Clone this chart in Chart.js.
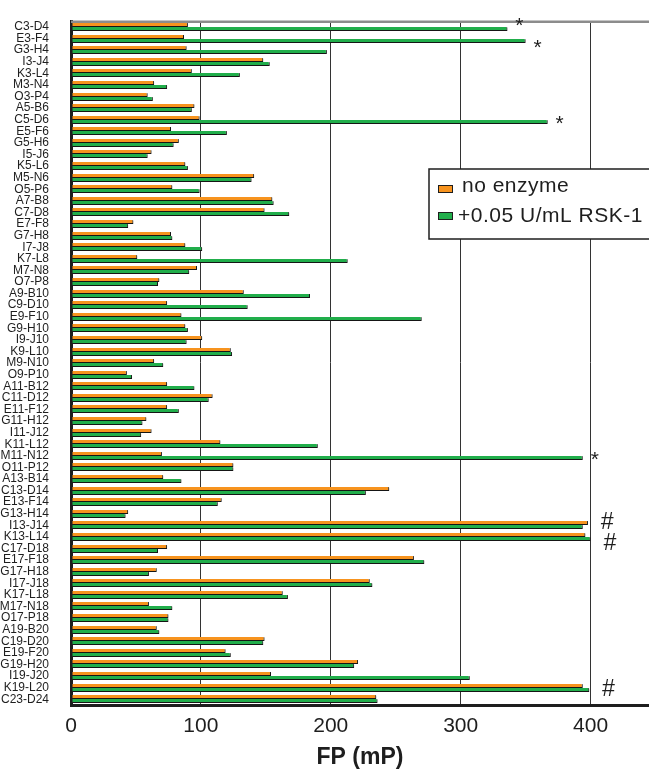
<!DOCTYPE html>
<html>
<head>
<meta charset="utf-8">
<script src="https://cdn.jsdelivr.net/npm/chart.js@4/dist/chart.umd.min.js"></script>
<style>
  html, body { margin: 0; padding: 0; background: #fff; }
  #wrap { width: 649px; height: 775px; position: relative; }
</style>
</head>
<body>
<div id="wrap"><canvas id="fpChart"></canvas></div>
<script>
// peptide pairs, top to bottom
const pairs = [
  'C3-D4', 'E3-F4', 'G3-H4', 'I3-J4', 'K3-L4', 'M3-N4', 'O3-P4', 'A5-B6', 'C5-D6', 'E5-F6',
  'G5-H6', 'I5-J6', 'K5-L6', 'M5-N6', 'O5-P6', 'A7-B8', 'C7-D8', 'E7-F8', 'G7-H8', 'I7-J8',
  'K7-L8', 'M7-N8', 'O7-P8', 'A9-B10', 'C9-D10', 'E9-F10', 'G9-H10', 'I9-J10', 'K9-L10', 'M9-N10',
  'O9-P10', 'A11-B12', 'C11-D12', 'E11-F12', 'G11-H12', 'I11-J12', 'K11-L12', 'M11-N12', 'O11-P12', 'A13-B14',
  'C13-D14', 'E13-F14', 'G13-H14', 'I13-J14', 'K13-L14', 'C17-D18', 'E17-F18', 'G17-H18', 'I17-J18', 'K17-L18',
  'M17-N18', 'O17-P18', 'A19-B20', 'C19-D20', 'E19-F20', 'G19-H20', 'I19-J20', 'K19-L20', 'C23-D24'
];

// FP (mP) without enzyme
const noEnzyme = [
  90, 87, 89, 148, 93, 64, 59, 95, 99, 77,
  83, 62, 88, 141, 78, 155, 149, 48, 77, 88,
  51, 97, 68, 133, 74, 85, 88, 101, 123, 64,
  43, 74, 109, 74, 58, 62, 115, 70, 125, 71,
  245, 116, 44, 398, 396, 74, 264, 66, 230, 163,
  60, 75, 66, 149, 119, 221, 154, 394, 235
];

// FP (mP) with 0.05 U/mL RSK-1
const rsk1 = [
  336, 350, 197, 153, 130, 74, 63, 93, 367, 120,
  79, 59, 90, 139, 99, 156, 168, 44, 78, 101,
  213, 91, 67, 184, 136, 270, 90, 89, 124, 71,
  47, 95, 106, 83, 55, 54, 190, 394, 125, 85,
  227, 113, 42, 394, 400, 67, 272, 60, 232, 167,
  78, 75, 68, 148, 123, 218, 307, 399, 236
];

const xTicks = [0, 100, 200, 300, 400];

// significance marks next to bars
const markPairs = ['C3-D4', 'E3-F4', 'C5-D6', 'M11-N12', 'I13-J14', 'K13-L14', 'K19-L20'];
const markSymbols = ['*', '*', '*', '*', '#', '#', '#'];

const ORANGE = '#F7931E';
const GREEN = '#21AE4B';
const INK = '#1e1e1e';

// snap bars to whole pixels so the thin outlines stay crisp, then add a grey shadow
const barLook = {
  id: 'barLook',
  beforeDatasetsDraw(chart) {
    chart.data.datasets.forEach((ds, i) => {
      chart.getDatasetMeta(i).data.forEach(el => { el.y = Math.round(el.y); });
    });
    const ctx = chart.ctx;
    ctx.save();
    ctx.shadowColor = 'rgba(0,0,0,0.28)';
    ctx.shadowOffsetX = 1;
    ctx.shadowOffsetY = 1;
    ctx.shadowBlur = 0.5;
  },
  afterDatasetsDraw(chart) {
    chart.ctx.restore();
  }
};

const extras = {
  id: 'extras',
  beforeDatasetsDraw(chart) {
    // grey frame line at the top of the plot
    const { ctx, chartArea } = chart;
    ctx.save();
    ctx.strokeStyle = '#8c8c8c';
    ctx.lineWidth = 2.5;
    ctx.beginPath();
    ctx.moveTo(chartArea.left, chartArea.top + 0.5);
    ctx.lineTo(chartArea.right, chartArea.top + 0.5);
    ctx.stroke();
    ctx.restore();
  },
  afterDraw(chart) {
    const { ctx } = chart;
    const yScale = chart.scales.y;

    // * and # marks
    ctx.save();
    ctx.fillStyle = INK;
    ctx.textAlign = 'center';
    ctx.textBaseline = 'alphabetic';
    const idxs = markPairs.map(p => pairs.indexOf(p));
    idxs.forEach((idx, k) => {
      const ends = chart.data.datasets.map((ds, i) => chart.getDatasetMeta(i).data[idx].x);
      const sym = markSymbols[k];
      ctx.font = sym === '#' ? 'italic 23px "Liberation Sans", Arial, sans-serif' : '21px "Liberation Sans", Arial, sans-serif';
      const m = ctx.measureText(sym);
      const cx = Math.max(...ends) + (sym === '#' ? 19 : 12);
      let cy = yScale.getPixelForValue(idx);
      // spread marks on neighbouring rows apart
      if (idxs[k + 1] === idx + 1) cy -= 5;
      if (idxs[k - 1] === idx - 1) cy += 5;
      const y = cy + (m.actualBoundingBoxAscent - m.actualBoundingBoxDescent) / 2;
      ctx.fillText(sym, cx, y);
    });
    ctx.restore();

    // legend box inside the plot
    const bx = 429, by = 169, bw = 240, bh = 70;
    ctx.save();
    ctx.fillStyle = '#fff';
    ctx.fillRect(bx, by, bw, bh);
    ctx.strokeStyle = INK;
    ctx.lineWidth = 1.5;
    ctx.strokeRect(bx, by, bw, bh);
    ctx.font = '21px "Liberation Sans", Arial, sans-serif';
    ctx.letterSpacing = '0.5px';
    ctx.textBaseline = 'middle';
    ctx.textAlign = 'left';
    const rows = [
      { y: 189, tx: 462 },
      { y: 216, tx: 458 }
    ];
    chart.data.datasets.forEach((ds, i) => {
      const r = rows[i];
      ctx.fillStyle = ds.backgroundColor;
      ctx.fillRect(438.5, r.y - 3.5, 14, 7);
      ctx.strokeStyle = INK;
      ctx.lineWidth = 1;
      ctx.strokeRect(438.5, r.y - 3.5, 14, 7);
      ctx.fillStyle = INK;
      ctx.fillText(ds.label, r.tx, i === 0 ? r.y - 3 : r.y);
    });
    ctx.restore();
  }
};

const ctx = document.getElementById('fpChart').getContext('2d');
new Chart(ctx, {
  type: 'bar',
  data: {
    labels: pairs,
    datasets: [{
      label: 'no enzyme',
      data: noEnzyme,
      backgroundColor: ORANGE,
      borderColor: INK,
      borderWidth: 1,
      borderSkipped: 'top'
    }, {
      label: '+0.05 U/mL RSK-1',
      data: rsk1,
      backgroundColor: GREEN,
      borderColor: INK,
      borderWidth: 1,
      borderSkipped: 'top'
    }]
  },
  options: {
    indexAxis: 'y',
    responsive: true,
    maintainAspectRatio: false,
    animation: false,
    layout: { padding: { top: 14, right: 0, bottom: 0, left: 0 } },
    datasets: { bar: { barThickness: 4, inflateAmount: 0 } },
    scales: {
      x: {
        min: 0,
        max: 445,
        afterBuildTicks: (scale) => { scale.ticks = xTicks.map(v => ({ value: v })); },
        afterFit: (scale) => { scale.height = 70; },
        grid: { color: '#333', lineWidth: 1, drawTicks: false },
        border: { color: INK, width: 3 },
        ticks: {
          padding: 9,
          color: INK,
          font: { family: '"Liberation Sans", Arial, sans-serif', size: 21 }
        },
        title: {
          display: true,
          text: 'FP (mP)',
          color: INK,
          padding: { top: 0, bottom: 4 },
          font: { family: '"Liberation Sans", Arial, sans-serif', size: 23, weight: 'bold' }
        }
      },
      y: {
        afterFit: (scale) => { scale.width = 71; },
        grid: { display: false },
        border: { color: INK, width: 3 },
        ticks: {
          autoSkip: false,
          padding: 14,
          color: INK,
          font: { family: '"Liberation Sans", Arial, sans-serif', size: 12 }
        }
      }
    },
    plugins: {
      legend: { display: false },
      tooltip: { enabled: false }
    }
  },
  plugins: [extras, barLook]
});
</script>
</body>
</html>
